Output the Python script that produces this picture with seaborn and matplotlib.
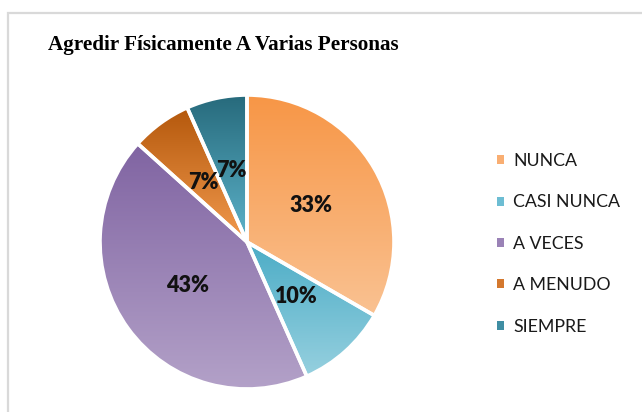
import numpy as np
import matplotlib
matplotlib.use("Agg")
import matplotlib.pyplot as plt
import seaborn as sns
from matplotlib.colors import to_rgb
from matplotlib.patches import Rectangle

# ---- data ----
title = "Agredir Físicamente A Varias Personas"
categories = ["NUNCA", "CASI NUNCA", "A VECES", "A MENUDO", "SIEMPRE"]
counts = [10, 3, 13, 2, 2]   # -> 33%, 10%, 43%, 7%, 7%
top_colors = ["#F79646", "#4BACC6", "#8064A2", "#B4580C", "#276A7C"]
bottom_colors = ["#FAC292", "#96D0DF", "#B3A1C8", "#F29A4E", "#5DB3CA"]
legend_colors = ["#F9AE72", "#6DBDD3", "#9A82B6", "#D4782E", "#3F8EA3"]

sns.set_theme(style="white")
plt.rcParams["font.family"] = ["Lato", "DejaVu Sans"]

W, H = 642, 412
fig = plt.figure(figsize=(W / 100, H / 100), dpi=100)
fig.patch.set_facecolor("white")

# outer chart frame
fig.patches.append(Rectangle((8 / W, -0.1), 1.2, (H - 13) / H + 0.1,
                             transform=fig.transFigure, fill=False,
                             edgecolor="#d9d9d9", linewidth=1.6))

cx, cy, R = 247, 242, 147
ax = fig.add_axes([(cx - R) / W, (H - cy - R) / H, 2 * R / W, 2 * R / H])
ax.set_xlim(-1, 1)
ax.set_ylim(-1, 1)
ax.axis("off")

wedges, texts, autotexts = ax.pie(
    counts, startangle=90, counterclock=False, colors=legend_colors,
    autopct="%1.0f%%", pctdistance=0.5,
    wedgeprops=dict(edgecolor="white", linewidth=2.6),
    textprops=dict(fontsize=15.5, fontweight="heavy", color="#111111"))
ax.set_xlim(-1, 1)
ax.set_ylim(-1, 1)

# legend (built from the wedges)
leg = fig.legend(wedges, categories, loc="upper left",
                 bbox_to_anchor=(497 / W, (H - 153) / H),
                 frameon=False, fontsize=12.8, handlelength=0.4,
                 handleheight=0.4, handletextpad=0.5, labelspacing=1.43,
                 borderaxespad=0, borderpad=0)
for t in leg.get_texts():
    t.set_color("#1a1a1a")
for h in leg.legend_handles:
    h.set_edgecolor("none")
    h.set_linewidth(0)

# gradient fills clipped to each wedge
for w, c0, c1 in zip(wedges, top_colors, bottom_colors):
    ext = w.get_path().get_extents()
    a, b = np.array(to_rgb(c0)), np.array(to_rgb(c1))
    t = np.linspace(0, 1, 256)[:, None, None]
    grad = a[None, None, :] * (1 - t) + b[None, None, :] * t
    im = ax.imshow(grad, extent=[ext.x0, ext.x1, ext.y0, ext.y1],
                   origin="upper", aspect="auto", zorder=1.5,
                   interpolation="bilinear")
    im.set_clip_path(w)
    w.set_facecolor("none")
    w.set_zorder(2)
for t in autotexts:
    t.set_zorder(3)
ax.set_xlim(-1, 1)
ax.set_ylim(-1, 1)

fig.text(48 / W, (H - 50) / H, title, fontsize=15.2, fontweight="bold",
         family=["Liberation Serif", "DejaVu Serif"], va="baseline",
         color="black")

fig.savefig("out.png", dpi=100, facecolor="white")
